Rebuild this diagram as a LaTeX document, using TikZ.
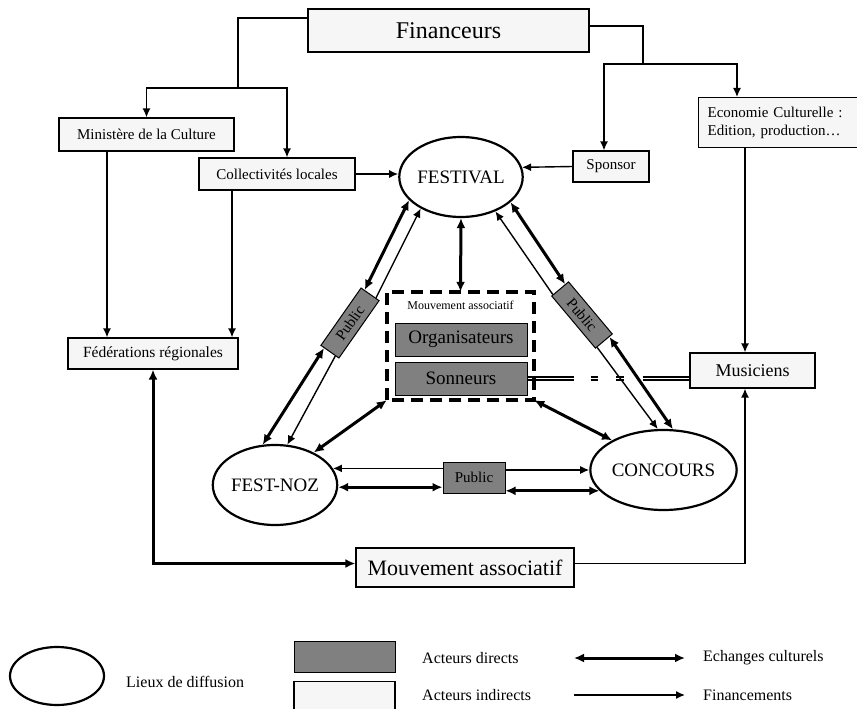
\documentclass[tikz,border=0pt]{standalone}
\usepackage{fontspec}
\setmainfont{Liberation Serif}
\usetikzlibrary{arrows.meta,shapes.geometric,calc}

\definecolor{boxlight}{HTML}{F6F6F6}
\definecolor{boxdark}{HTML}{808080}
\newcommand{\corps}[1]{\fontsize{#1}{#1}\selectfont}

\begin{document}
\begin{tikzpicture}[
			x=1pt, y=-1pt,
			% Define styles for nodes
			acteur/.style={draw, line width=1.2pt, fill=boxlight, inner sep=0pt},
			direct/.style={draw, line width=1pt, fill=boxdark, inner sep=0pt},
			lieu/.style={draw, ellipse, line width=2.2pt, inner sep=0pt, minimum width=116pt, minimum height=80pt, font=\corps{19}},
			legende/.style={anchor=west, inner sep=0pt, font=\corps{16}},
			% Define styles for connectors
			lien/.style={line width=1.4pt},
			financement/.style={lien, -{Latex[length=9pt,width=8pt]}},
			echange/.style={line width=3pt, {Latex[length=10pt,width=9pt]}-{Latex[length=10pt,width=9pt]}}
		]
		\useasboundingbox (0,0) rectangle (857,709);

		% Financeurs
		\node[acteur, minimum width=281pt, minimum height=43pt, font=\corps{24}] (financeurs) at (448.5,30.5) {Financeurs};
		\node[acteur, minimum width=175pt, minimum height=33pt, font=\corps{15}] (mini) at (146.5,134.5) {Ministère de la Culture};
		\node[acteur, minimum width=156pt, minimum height=32pt, font=\corps{15}] (coll) at (277,174) {Collectivités locales};
		\node[acteur, minimum width=76pt, minimum height=31pt, font=\corps{15}] (sponsor) at (611,166.5) {Sponsor};
		\node[acteur, anchor=north west, text width=151pt, inner xsep=9pt, minimum height=50pt, align=left, font=\fontsize{15}{18}\selectfont] (eco) at (698,97) {Economie Culturelle :\\Edition, production…};
		\node[acteur, minimum width=170pt, minimum height=31pt, font=\corps{15.5}] (fede) at (153,353.5) {Fédérations régionales};
		\node[acteur, minimum width=125pt, minimum height=35pt, font=\corps{18}] (musiciens) at (752.5,370.5) {Musiciens};
		\node[acteur, minimum width=218pt, minimum height=39pt, font=\corps{22}] (mvb) at (465,567.5) {Mouvement associatif};

		% Lieux de diffusion
		\node[lieu] (festival) at (461,177) {FESTIVAL};
		\node[lieu] (festnoz) at (275,485) {FEST-NOZ};
		\node[lieu, minimum width=117pt] (concours) at (663.5,470) {CONCOURS};

		% Mouvement associatif et acteurs directs
		\node[minimum width=147pt, minimum height=108pt] (mva) at (460.5,346) {};
		\node[inner sep=0pt, font=\corps{12}] (mvaTitre) at (460.5,305) {Mouvement associatif};
		\node[direct, minimum width=132pt, minimum height=33pt, font=\corps{19}] (orga) at (461,339.5) {Organisateurs};
		\node[direct, minimum width=132pt, minimum height=33pt, font=\corps{19}] (sonn) at (461,378.5) {Sonneurs};
		\node[direct, minimum width=70pt, minimum height=22pt, rotate=55, font=\corps{15}] (pubL) at (350,323) {Public};
		\node[direct, minimum width=68pt, minimum height=22pt, rotate=-50, font=\corps{15}] (pubR) at (582,315) {Public};
		\node[direct, minimum width=62pt, minimum height=31pt, font=\corps{15}] (pubB) at (474,477.5) {Public};

		% Financements
		\coordinate (jonctionG) at (238,88);
		\coordinate (jonctionD) at (643,64);
		\coordinate (mushaut) at ([xshift=-7.5pt]musiciens.north);
		\coordinate (musbas) at ([xshift=-7.5pt]musiciens.south);
		\draw[lien] ([yshift=12.5pt]financeurs.west) -| (jonctionG);
		\draw[financement] (jonctionG) -| (mini.north);
		\draw[financement] (jonctionG) -| ([xshift=10pt]coll.north);
		\draw[lien] ([yshift=4.5pt]financeurs.east) -| (jonctionD);
		\draw[financement] (jonctionD) -| ([xshift=-7pt]sponsor.north);
		\draw[financement] (jonctionD) -| ([xshift=39pt]eco.north west);
		\draw[financement] ([xshift=-39.5pt]mini.south) -- ([xshift=-39.5pt]mini.south |- fede.north);
		\draw[financement] ([xshift=-45pt]coll.south) -- ([xshift=-45pt]coll.south |- fede.north);
		\draw[financement] (coll.east) -- (coll.east -| festival.west);
		\draw[financement] (sponsor.west) -- (festival.9);
		\draw[financement] (eco.south -| mushaut) -- (mushaut);
		\draw[financement] ([yshift=4pt]mvb.east) -| (musbas);

		% Echanges culturels
		\draw[line width=1.3pt, double, double distance=1.6pt, dash pattern=on 46pt off 17pt on 7pt off 18pt on 8pt off 19pt on 60pt] (sonn.east) -- (sonn.east -| musiciens.west);
		\draw[line width=3.5pt, dash pattern=on 12pt off 7pt] (mva.south west) rectangle (mva.north east);
		\draw[echange] (fede.south) |- ([yshift=4pt]mvb.west);
		\draw[echange] (festival.south) -- (mva.north);
		\draw[echange] (mva.south west) -- (festnoz.40);
		\draw[echange] (mva.south east) -- (concours.150);

		% Public
		\draw[echange] (festival.204) -- ($(pubL.north east)!0.2!(pubL.south east)$);
		\draw[financement] ($(pubL.north east)!0.8!(pubL.south east)$) -- (festival.218);
		\draw[echange] ($(pubL.north west)!0.2!(pubL.south west)$) -- (festnoz.107);
		\draw[financement] ($(pubL.north west)!0.8!(pubL.south west)$) -- (festnoz.73);
		\draw[echange] (festival.-27) -- ($(pubR.north west)!0.2!(pubR.south west)$);
		\draw[financement] ($(pubR.north west)!0.9!(pubR.south west)$) -- (festival.-45);
		\draw[echange] ($(pubR.north east)!0.2!(pubR.south east)$) -- (concours.77);
		\draw[financement] ($(pubR.north east)!0.9!(pubR.south east)$) -- (concours.98);
		\draw[financement] (pubB.west |- festnoz.16) -- (festnoz.16);
		\draw[echange] (festnoz.-2) -- (pubB.west |- festnoz.-2);
		\draw[financement] (pubB.east |- concours.180) -- (concours.180);
		\draw[echange] (pubB.east |- concours.198) -- (concours.198);

		% Legende
		\node[lieu, minimum width=94pt, minimum height=58pt] (legLieu) at (57,676) {};
		\node[legende] (legLieuTxt) at (126,682) {Lieux de diffusion};
		\node[direct, minimum width=101pt, minimum height=31pt] (legDirect) at (344.5,656.5) {};
		\node[acteur, anchor=north, minimum width=101pt, minimum height=40pt] (legIndirect) at (344.5,681) {};
		\node[legende] (legDirectTxt) at (422,658) {Acteurs directs};
		\node[legende] (legIndirectTxt) at (422,695) {Acteurs indirects};
		\coordinate (echA) at (574,658);
		\coordinate (echB) at (685,658);
		\coordinate (finA) at (574,695);
		\coordinate (finB) at (685,695);
		\draw[echange] (echA) -- (echB);
		\draw[financement] (finA) -- (finB);
		\node[legende] (legEchTxt) at (703,658) {Echanges culturels};
		\node[legende] (legFinTxt) at (703,695) {Financements};
	\end{tikzpicture}
\end{document}
